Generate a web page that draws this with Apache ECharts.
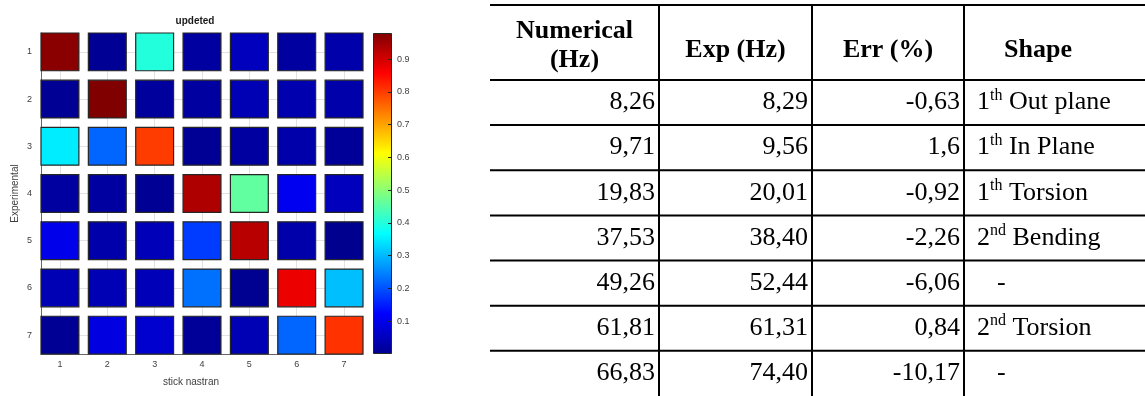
<!DOCTYPE html>
<html><head><meta charset="utf-8">
<script src="https://cdn.jsdelivr.net/npm/echarts@6/dist/echarts.min.js"></script>
<style>html,body{margin:0;padding:0;background:#fff}#c{width:1145px;height:396px}</style>
</head><body><div id="c"></div>
<script>
// ---------- data ----------
const modeTicks = [1, 2, 3, 4, 5, 6, 7];
const macRow1 = [0.97, 0.005, 0.40, 0.02, 0.05, 0.02, 0.03];
const macRow2 = [0.005, 0.98, 0.015, 0.02, 0.04, 0.035, 0.03];
const macRow3 = [0.35, 0.22, 0.80, 0.005, 0.02, 0.03, 0.01];
const macRow4 = [0.02, 0.02, 0.005, 0.935, 0.46, 0.107, 0.05];
const macRow5 = [0.10, 0.03, 0.045, 0.18, 0.925, 0.03, 0.0];
const macRow6 = [0.04, 0.04, 0.045, 0.23, 0.002, 0.875, 0.306];
const macRow7 = [0.005, 0.09, 0.07, 0.01, 0.04, 0.22, 0.81];
const macRows = [macRow1, macRow2, macRow3, macRow4, macRow5, macRow6, macRow7];
const colorbarTicks = [0.1, 0.2, 0.3, 0.4, 0.5, 0.6, 0.7, 0.8, 0.9];
const colorMin = 0, colorMax = 0.98;

const tableHeaders = ['Numerical\n(Hz)', 'Exp (Hz)', 'Err (%)', 'Shape'];
const numericalHz = ['8,26', '9,71', '19,83', '37,53', '49,26', '61,81', '66,83'];
const expHz = ['8,29', '9,56', '20,01', '38,40', '52,44', '61,31', '74,40'];
const errPct = ['-0,63', '1,6', '-0,92', '-2,26', '-6,06', '0,84', '-10,17'];
const shapeOrder = ['1', '1', '1', '2', '', '2', ''];
const shapeSuffix = ['th', 'th', 'th', 'nd', '', 'nd', ''];
const shapeName = ['Out plane', 'In Plane', 'Torsion', 'Bending', '-', 'Torsion', '-'];

// ---------- layout / style ----------
const JET = ['#00008F', '#0000FF', '#0080FF', '#00FFFF', '#80FF80', '#FFFF00', '#FF8000', '#FF0000', '#800000'];
const HEADER_H = 75.5, ROW_H = 45.5, TABLE_W = 655;
const TABLE_H = HEADER_H + 7 * ROW_H;
const COL_EDGES = [0, 169, 322, 474, 622];
const SERIF = '"Liberation Serif", "Times New Roman", serif';
const SANS = '"Liberation Sans", Arial, sans-serif';

const heatData = [];
macRows.forEach((row, i) => row.forEach((v, j) => heatData.push([modeTicks[j], modeTicks[i], v])));

const tableItems = [[-1]];
numericalHz.forEach((_, i) => tableItems.push([i]));

function renderSquare(params, api) {
  const x = api.value(0), y = api.value(1);
  const a = api.coord([x - 0.4, y - 0.4]);
  const b = api.coord([x + 0.4, y + 0.4]);
  return {
    type: 'rect',
    shape: { x: Math.min(a[0], b[0]), y: Math.min(a[1], b[1]), width: Math.abs(b[0] - a[0]), height: Math.abs(b[1] - a[1]) },
    style: { fill: api.visual('color'), stroke: '#262626', lineWidth: 1.2 }
  };
}

function hline(p, q) {
  return { type: 'line', shape: { x1: p[0], y1: p[1], x2: q[0], y2: q[1] }, style: { stroke: '#000', lineWidth: 2 } };
}

function renderTable(params, api) {
  const r = api.value(0);
  const y0 = r < 0 ? 0 : HEADER_H + r * ROW_H;
  const y1 = r < 0 ? HEADER_H : y0 + ROW_H;
  const children = [];
  children.push(hline(api.coord([0, y0]), api.coord([TABLE_W, y0])));
  for (let c = 1; c <= 3; c++) {
    children.push(hline(api.coord([COL_EDGES[c], y0]), api.coord([COL_EDGES[c], y1])));
  }
  const yMid = api.coord([0, (y0 + y1) / 2])[1];
  if (r < 0) {
    tableHeaders.forEach((h, c) => {
      const xc = api.coord([(COL_EDGES[c] + COL_EDGES[c + 1]) / 2, 0])[0];
      children.push({
        type: 'text',
        style: { text: h, x: xc, y: yMid + (h.indexOf('\n') >= 0 ? 3 : 8), align: 'center', verticalAlign: 'middle',
          font: 'bold 26px ' + SERIF, lineHeight: 29, fill: '#000' }
      });
    });
  } else {
    const cols = [numericalHz[r], expHz[r], errPct[r]];
    cols.forEach((t, c) => {
      const xr = api.coord([COL_EDGES[c + 1] - 4, 0])[0];
      children.push({
        type: 'text',
        style: { text: t, x: xr, y: yMid, align: 'right', verticalAlign: 'middle', font: '26px ' + SERIF, fill: '#000' }
      });
    });
    const xs = api.coord([COL_EDGES[3] + 13, 0])[0];
    let txt, dx = 0;
    if (shapeOrder[r]) {
      txt = '{n|' + shapeOrder[r] + '}{s|' + shapeSuffix[r] + '}{n| ' + shapeName[r] + '}';
    } else {
      txt = '{n|' + shapeName[r] + '}';
      dx = 20;
    }
    children.push({
      type: 'text',
      style: {
        text: txt, x: xs + dx, y: yMid, align: 'left', verticalAlign: 'middle', font: '26px ' + SERIF, fill: '#000',
        rich: {
          n: { fontSize: 26, fontFamily: SERIF, lineHeight: 30 },
          s: { fontSize: 16, fontFamily: SERIF, verticalAlign: 'top', lineHeight: 16 }
        }
      }
    });
  }
  return { type: 'group', children };
}

const chart = echarts.init(document.getElementById('c'));
const gradStops = JET.map((c, i) => ({ offset: i / (JET.length - 1), color: c }));

chart.setOption({
  animation: false,
  backgroundColor: '#fff',
  textStyle: { fontFamily: SANS },
  grid: [
    { left: 41, top: 33, width: 322, height: 321 },
    { left: 373, top: 33, width: 19, height: 321 },
    { left: 490, top: 5, width: TABLE_W, height: TABLE_H }
  ],
  visualMap: {
    type: 'continuous', show: false, seriesIndex: 0, dimension: 2,
    min: colorMin, max: colorMax, inRange: { color: JET }
  },
  xAxis: [
    {
      gridIndex: 0, type: 'value', min: 0.6, max: 7.4,
      axisLine: { show: true, onZero: false, lineStyle: { color: '#666', width: 1 } },
      axisTick: { show: false, customValues: modeTicks },
      axisLabel: { customValues: modeTicks, fontSize: 9, color: '#404040', margin: 6 },
      splitLine: { show: true, lineStyle: { color: '#e2e2e2', width: 1 } }
    },
    { gridIndex: 1, type: 'category', data: ['cb'], show: false },
    { gridIndex: 2, type: 'value', min: 0, max: TABLE_W, show: false }
  ],
  yAxis: [
    {
      gridIndex: 0, type: 'value', inverse: true, min: 0.6, max: 7.4,
      name: 'Experimental', nameLocation: 'middle', nameGap: 21,
      nameTextStyle: { fontSize: 10, color: '#404040' },
      axisLine: { show: true, onZero: false, lineStyle: { color: '#666', width: 1 } },
      axisTick: { show: false, customValues: modeTicks },
      axisLabel: { customValues: modeTicks, fontSize: 9, color: '#404040', margin: 9 },
      splitLine: { show: true, lineStyle: { color: '#e2e2e2', width: 1 } }
    },
    {
      gridIndex: 1, type: 'value', min: colorMin, max: colorMax, position: 'right', z: 5,
      axisLine: { show: false },
      axisTick: { show: true, inside: true, length: 4, customValues: colorbarTicks, lineStyle: { color: '#262626' } },
      axisLabel: { customValues: colorbarTicks, fontSize: 9, color: '#404040', margin: 5 },
      splitLine: { show: false }
    },
    { gridIndex: 2, type: 'value', inverse: true, min: 0, max: TABLE_H, show: false }
  ],
  graphic: [
    { type: 'text', x: 195, y: 21, style: { text: 'updeted', font: 'bold 10px ' + SANS, fill: '#1a1a1a', align: 'center', verticalAlign: 'middle' } },
    { type: 'text', x: 191, y: 382, style: { text: 'stick nastran', font: '10px ' + SANS, fill: '#404040', align: 'center', verticalAlign: 'middle' } }
  ],
  series: [
    {
      type: 'custom', xAxisIndex: 0, yAxisIndex: 0, renderItem: renderSquare,
      encode: { x: 0, y: 1 }, data: heatData, silent: true
    },
    {
      type: 'bar', xAxisIndex: 1, yAxisIndex: 1, data: [colorMax], barWidth: '100%', silent: true,
      itemStyle: {
        color: { type: 'linear', x: 0, y: 1, x2: 0, y2: 0, colorStops: gradStops },
        borderColor: '#262626', borderWidth: 1
      }
    },
    {
      type: 'custom', xAxisIndex: 2, yAxisIndex: 2, renderItem: renderTable,
      data: tableItems, silent: true, clip: false
    }
  ]
});
</script>
</body></html>
